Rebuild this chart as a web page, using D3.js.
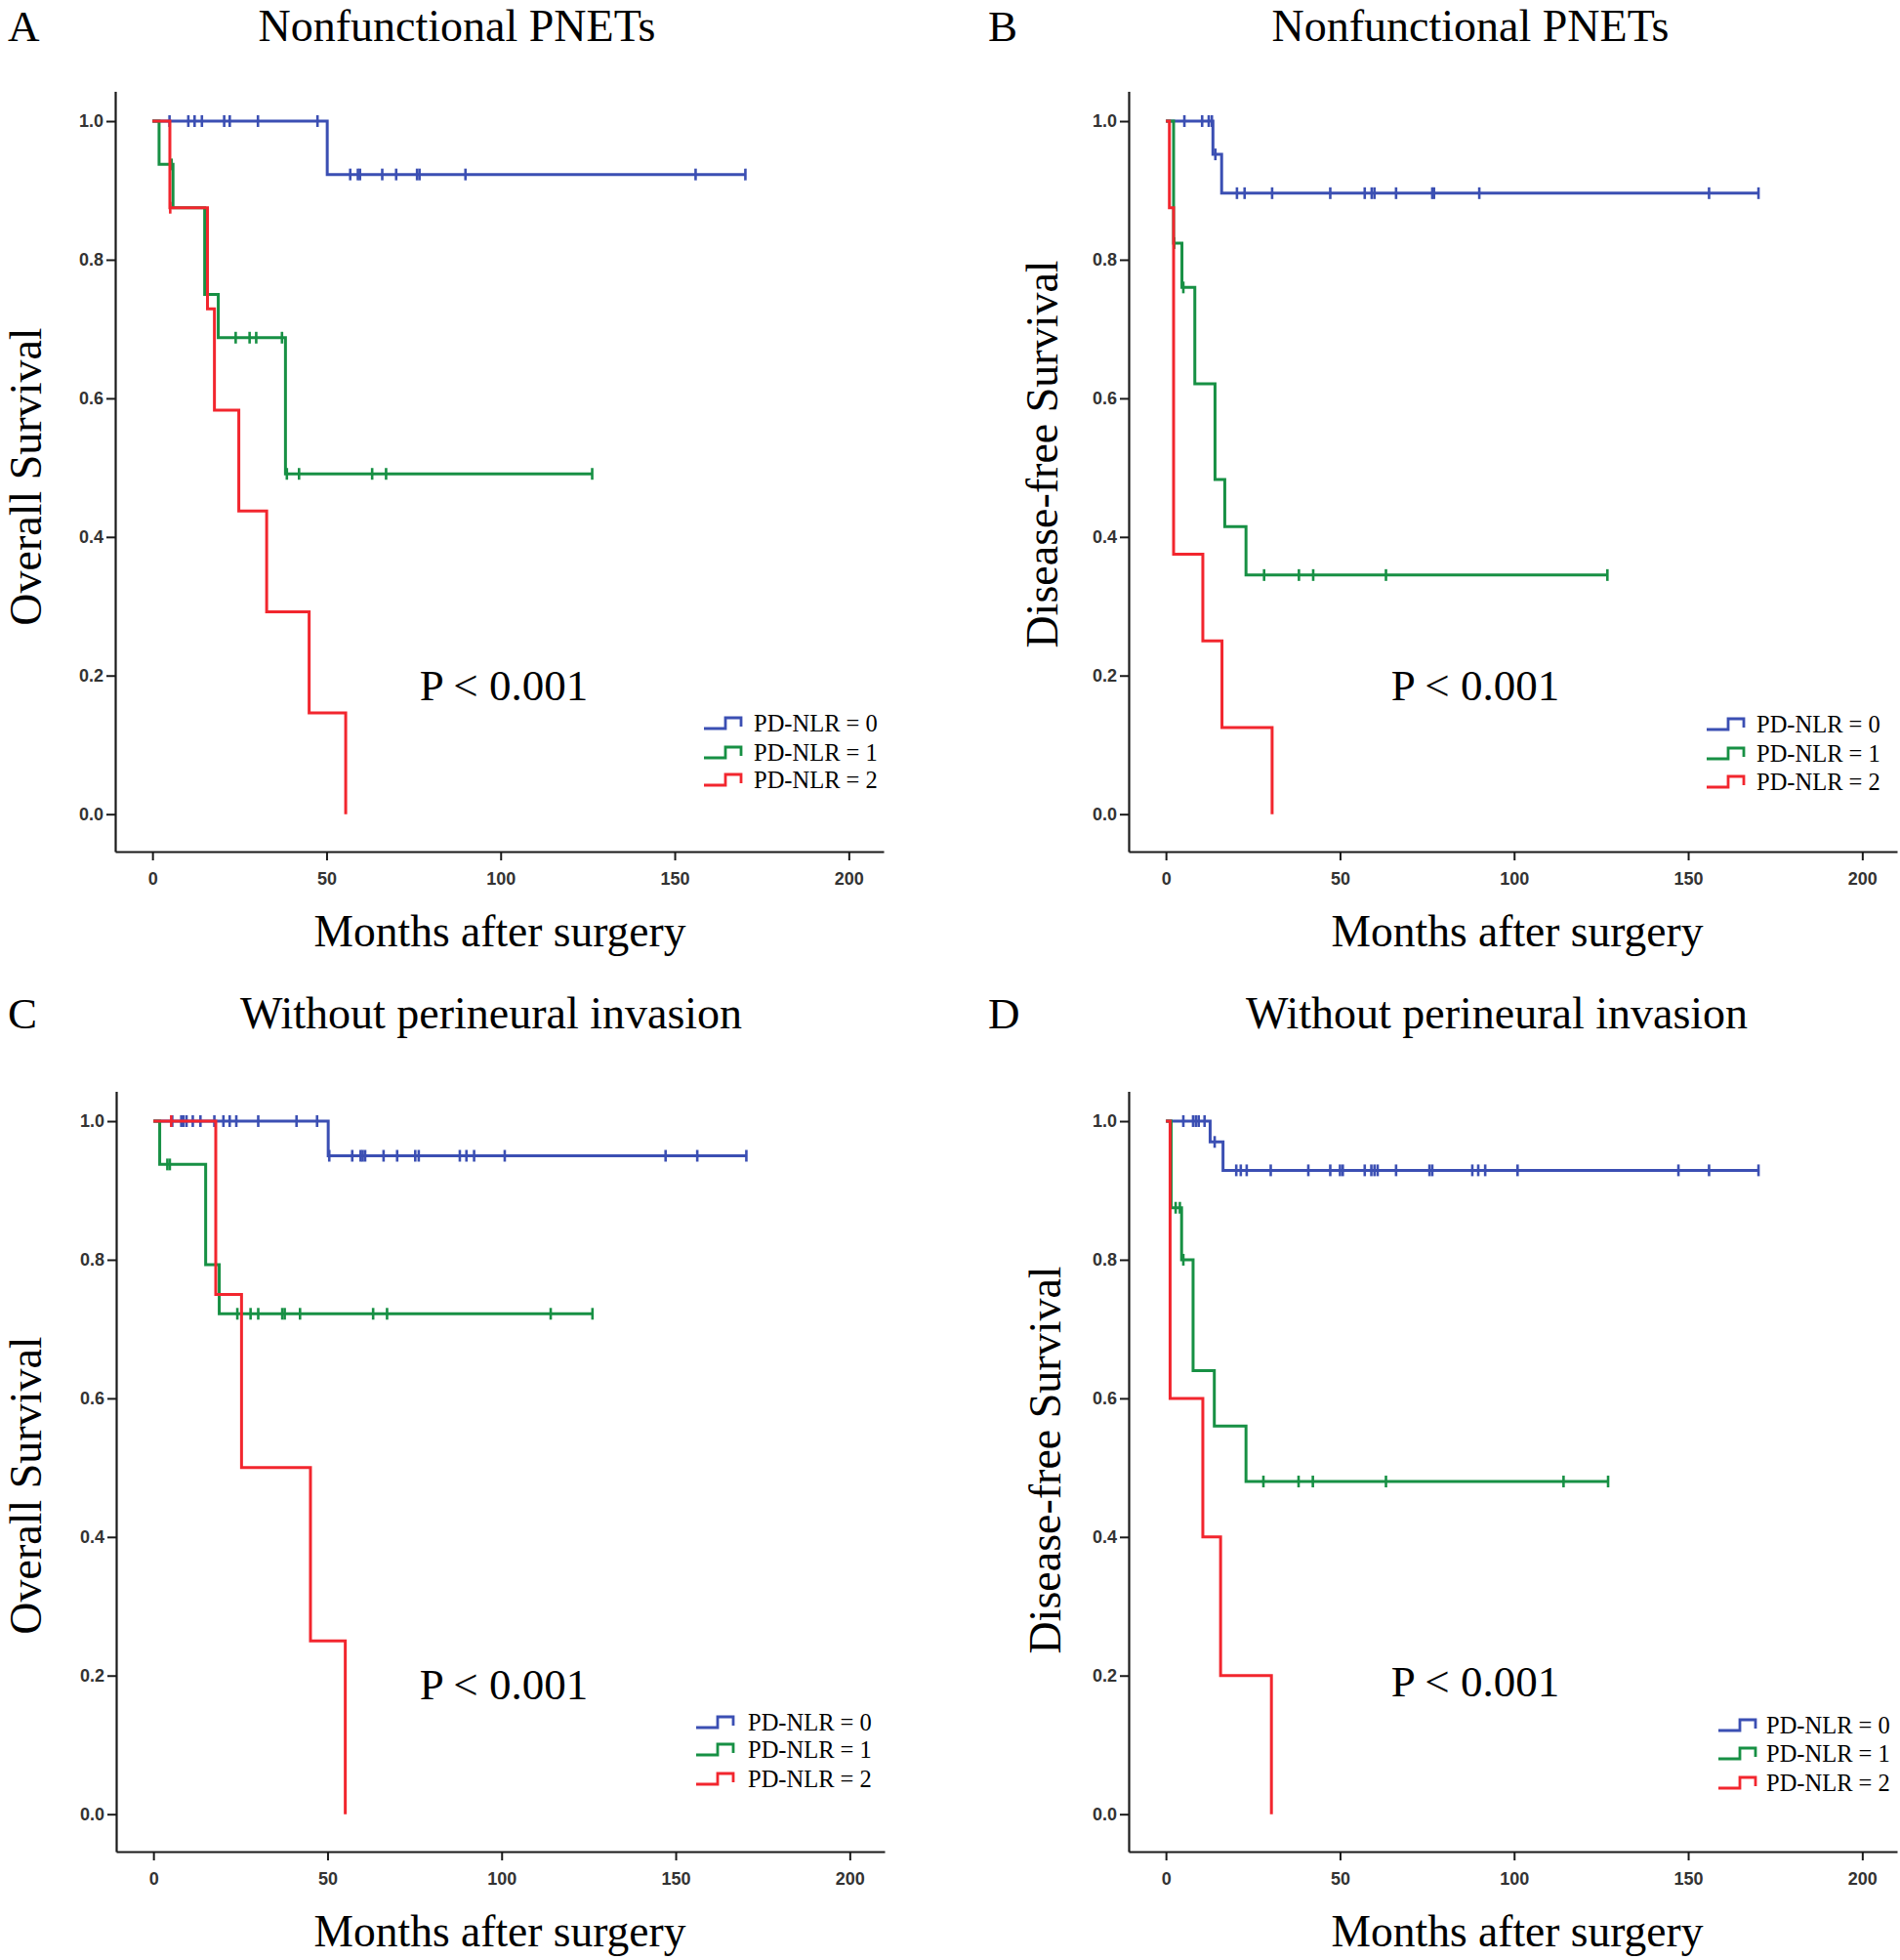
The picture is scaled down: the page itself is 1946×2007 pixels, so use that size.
<!DOCTYPE html>
<html>
<head>
<meta charset="utf-8">
<script src="https://cdn.jsdelivr.net/npm/d3@7"></script>
<style>
    body { margin: 0; background: #fff; }
    svg { display: block; }
</style>
</head>
<body>
<svg id="chart" width="1946" height="2007"></svg>
<script>
// values: steps are [month, survival after the drop], cens are censor months
const xTickValues = [0, 50, 100, 150, 200]
const yTickValues = [0, 0.2, 0.4, 0.6, 0.8, 1.0]
const groupNames = ['PD-NLR = 0', 'PD-NLR = 1', 'PD-NLR = 2']
const groupColors = ['#3b4fb3', '#179044', '#f2262e']
const panelLetters = ['A', 'B', 'C', 'D']
const panelTitles = ['Nonfunctional PNETs', 'Nonfunctional PNETs', 'Without perineural invasion', 'Without perineural invasion']
const yTitles = ['Overall Survival', 'Disease-free Survival', 'Overall Survival', 'Disease-free Survival']
const xTitle = 'Months after surgery'
const pLabels = ['P < 0.001', 'P < 0.001', 'P < 0.001', 'P < 0.001']

// A - overall survival, nonfunctional PNETs
const aStepsNlr0 = [[50.2, 0.923]]
const aCensNlr0 = [4.9, 10.3, 12.1, 14.2, 20.6, 22.2, 30.3, 47.4, 56.8, 59, 59.6, 66, 70, 76, 76.7, 89.9, 156, 170.3]
const aStepsNlr1 = [[1.9, 0.9375], [5.9, 0.875], [15.0, 0.75], [18.9, 0.6875], [38.2, 0.491]]
const aCensNlr1 = [5.5, 23.9, 27.9, 29.8, 37.2, 38.6, 42.1, 63.1, 67.1, 126.3]
const aStepsNlr2 = [[5.0, 0.875], [15.8, 0.729], [17.8, 0.583], [24.8, 0.4375], [32.8, 0.292], [45.0, 0.146], [55.5, 0]]
const aCensNlr2 = [5.1]

// B - disease-free survival, nonfunctional PNETs
const bStepsNlr0 = [[13.5, 0.952], [16.0, 0.896]]
const bCensNlr0 = [5.3, 10.4, 12.3, 13.2, 14.2, 20.4, 22.6, 30.5, 47.2, 57.1, 59.1, 59.9, 66.1, 76.5, 77, 90, 156, 170.2]
const bStepsNlr1 = [[2.2, 0.824], [4.6, 0.76], [8.3, 0.621], [14.1, 0.483], [16.9, 0.415], [23, 0.345]]
const bCensNlr1 = [2.4, 5, 28.2, 38.2, 42.3, 63.2, 126.8]
const bStepsNlr2 = [[1.0, 0.875], [2.2, 0.375], [10.6, 0.25], [16.1, 0.125], [30.5, 0]]
const bCensNlr2 = []

// C - overall survival, without perineural invasion
const cStepsNlr0 = [[50.2, 0.95]]
const cCensNlr0 = [5.4, 8, 8.6, 9.5, 11.3, 13.5, 17.5, 20.1, 21.9, 23.8, 30.1, 41.1, 47, 50.5, 57.1, 59.5, 60.1, 60.8, 66.1, 70, 75.2, 76.2, 88, 89.9, 92.1, 100.9, 147.1, 156.2, 170.3]
const cStepsNlr1 = [[1.8, 0.9375], [15, 0.793], [18.9, 0.722]]
const cCensNlr1 = [4, 4.7, 24.1, 27.9, 30.1, 37, 37.7, 42.1, 63.1, 67.1, 114.1, 126.1]
const cStepsNlr2 = [[17.9, 0.75], [25.3, 0.5], [45.1, 0.25], [55.1, 0]]
const cCensNlr2 = [5.1]

// D - disease-free survival, without perineural invasion
const dStepsNlr0 = [[12.7, 0.97], [16.4, 0.929]]
const dCensNlr0 = [5, 7.8, 8.6, 9.4, 11.1, 14, 20.2, 21.5, 23.2, 30.1, 40.9, 47.2, 50, 50.8, 57.1, 59, 59.9, 60.8, 66.1, 75.7, 76.5, 88, 89.7, 91.7, 101, 147.2, 156, 170.2]
const dStepsNlr1 = [[1.5, 0.875], [4.5, 0.8], [7.8, 0.64], [13.9, 0.56], [23, 0.48]]
const dCensNlr1 = [2.8, 4, 5, 28, 38.1, 42.2, 63.2, 114.2, 127]
const dStepsNlr2 = [[1.2, 0.6], [10.6, 0.4], [15.7, 0.2], [30.3, 0]]
const dCensNlr2 = []

const panelSeries = [
    [[aStepsNlr0, aCensNlr0], [aStepsNlr1, aCensNlr1], [aStepsNlr2, aCensNlr2]],
    [[bStepsNlr0, bCensNlr0], [bStepsNlr1, bCensNlr1], [bStepsNlr2, bCensNlr2]],
    [[cStepsNlr0, cCensNlr0], [cStepsNlr1, cCensNlr1], [cStepsNlr2, cCensNlr2]],
    [[dStepsNlr0, dCensNlr0], [dStepsNlr1, dCensNlr1], [dStepsNlr2, dCensNlr2]]
]

// layout of the four panels (pixels)
const layout = [
    {left: 118, bottom: 872, letterX: 8, titleX: 468, titleY: 42, yTitleX: 42, yTitleY: 488, xTitleX: 512, xTitleY: 969, pX: 516, pY: 717, legSym: 721, legText: 772, legRows: [741, 771, 799]},
    {left: 1156, bottom: 872, letterX: 1012, titleX: 1506, titleY: 42, yTitleX: 1083, yTitleY: 465, xTitleX: 1554, xTitleY: 969, pX: 1511, pY: 717, legSym: 1748, legText: 1799, legRows: [742, 772, 801]},
    {left: 119, bottom: 1896, letterX: 8, titleX: 503, titleY: 1053, yTitleX: 42, yTitleY: 1521, xTitleX: 512, xTitleY: 1993, pX: 516, pY: 1740, legSym: 713, legText: 766, legRows: [1764, 1792, 1822]},
    {left: 1156, bottom: 1896, letterX: 1012, titleX: 1533, titleY: 1053, yTitleX: 1086, yTitleY: 1495, xTitleX: 1554, xTitleY: 1993, pX: 1511, pY: 1737, legSym: 1760, legText: 1809, legRows: [1767, 1796, 1826]}
]
const plotW = 787
const plotH = 778.5
const serif = '"Liberation Serif", "Times New Roman", serif'
const sans = '"Liberation Sans", Arial, sans-serif'

const svg = d3.select('#chart')

function survivalAt(steps, t) {
    let s = 1
    steps.forEach(function (d) {
        if (d[0] <= t) s = d[1]
    })
    return s
}

layout.forEach(function (lay, i) {
    const x = d3.scaleLinear().domain([-10.7, 210]).range([lay.left, lay.left + plotW])
    const y = d3.scaleLinear().domain([-0.054, 1.043]).range([lay.bottom, lay.bottom - plotH])
    const g = svg.append('g').attr('class', 'panel panel-' + panelLetters[i])

    // axes
    const xAxis = g.append('g')
        .attr('transform', 'translate(0,' + lay.bottom + ')')
        .call(d3.axisBottom(x).tickValues(xTickValues).tickSize(9).tickPadding(12).tickSizeOuter(0))
    const yAxis = g.append('g')
        .attr('transform', 'translate(' + lay.left + ',0)')
        .call(d3.axisLeft(y).tickValues(yTickValues).tickFormat(d3.format('.1f')).tickSize(9).tickPadding(3).tickSizeOuter(0))
    ;[xAxis, yAxis].forEach(function (ax) {
        ax.select('.domain').attr('stroke', '#1a1a1a').attr('stroke-width', 2.2)
        ax.selectAll('.tick line').attr('stroke', '#1a1a1a').attr('stroke-width', 2)
        ax.selectAll('.tick text')
            .attr('fill', '#333')
            .style('font-family', sans)
            .style('font-size', '18px')
            .style('font-weight', 'bold')
    })

    // curves
    const line = d3.line()
        .x(function (d) { return x(d[0]) })
        .y(function (d) { return y(d[1]) })
        .curve(d3.curveStepAfter)

    panelSeries[i].forEach(function (series, k) {
        const steps = series[0]
        const cens = series[1]
        const lastStep = steps[steps.length - 1]
        const endT = Math.max(lastStep[0], d3.max(cens) || 0)
        const pts = [[0, 1]].concat(steps).concat([[endT, lastStep[1]]])

        g.append('path')
            .datum(pts)
            .attr('fill', 'none')
            .attr('stroke', groupColors[k])
            .attr('stroke-width', 3)
            .attr('d', line)

        g.selectAll('.cens-' + k)
            .data(cens)
            .enter()
            .append('line')
            .attr('class', 'cens-' + k)
            .attr('x1', function (d) { return x(d) })
            .attr('x2', function (d) { return x(d) })
            .attr('y1', function (d) { return y(survivalAt(steps, d)) - 6 })
            .attr('y2', function (d) { return y(survivalAt(steps, d)) + 6 })
            .attr('stroke', groupColors[k])
            .attr('stroke-width', 2.6)
    })

    // texts
    g.append('text')
        .attr('x', lay.letterX)
        .attr('y', lay.titleY)
        .style('font-family', serif)
        .style('font-size', '45px')
        .text(panelLetters[i])

    g.append('text')
        .attr('x', lay.titleX)
        .attr('y', lay.titleY)
        .attr('text-anchor', 'middle')
        .style('font-family', serif)
        .style('font-size', '46px')
        .text(panelTitles[i])

    g.append('text')
        .attr('transform', 'translate(' + lay.yTitleX + ',' + lay.yTitleY + ') rotate(-90)')
        .attr('text-anchor', 'middle')
        .style('font-family', serif)
        .style('font-size', '46px')
        .text(yTitles[i])

    g.append('text')
        .attr('x', lay.xTitleX)
        .attr('y', lay.xTitleY)
        .attr('text-anchor', 'middle')
        .style('font-family', serif)
        .style('font-size', '45.5px')
        .text(xTitle)

    g.append('text')
        .attr('x', lay.pX)
        .attr('y', lay.pY)
        .attr('text-anchor', 'middle')
        .style('font-family', serif)
        .style('font-size', '45px')
        .text(pLabels[i])

    // legend
    groupNames.forEach(function (name, k) {
        const ry = lay.legRows[k]
        const sx = lay.legSym
        g.append('path')
            .attr('d', 'M' + sx + ',' + (ry + 5) + 'H' + (sx + 22) + 'V' + (ry - 6) + 'H' + (sx + 38) + 'V' + (ry + 3))
            .attr('fill', 'none')
            .attr('stroke', groupColors[k])
            .attr('stroke-width', 2.8)
        g.append('text')
            .attr('x', lay.legText)
            .attr('y', ry + 8)
            .style('font-family', serif)
            .style('font-size', '24.5px')
            .text(name)
    })
})
</script>
</body>
</html>
